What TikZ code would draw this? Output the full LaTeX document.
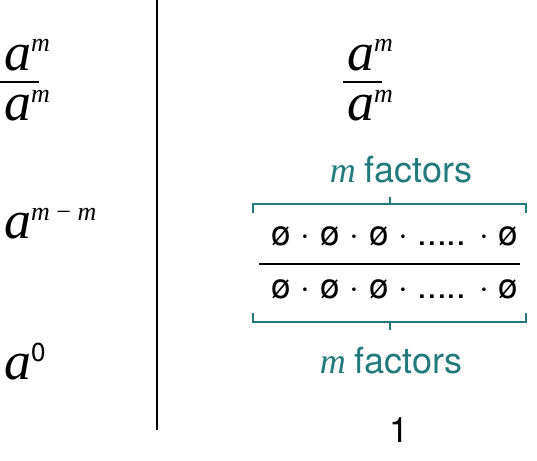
\documentclass[tikz,border=0pt]{standalone}
\usepackage{fontspec}
\setmainfont{Liberation Serif}
\setsansfont{TeX Gyre Heros}
\definecolor{tealm}{RGB}{35,122,124}
\newcommand{\pwr}[2]{{\fontsize{54}{54}\selectfont\itshape #1}\raisebox{18pt}{\fontsize{26}{26}\selectfont #2}}
\newcommand{\mfac}{{\fontsize{36}{36}\selectfont{\itshape m} {\sffamily factors}}}
\tikzset{
  pow/.style = {inner sep=0pt, anchor=base west},
  rowtext/.style = {inner sep=0pt, anchor=base, font=\fontsize{35}{35}\selectfont\sffamily},
  facnote/.style = {inner sep=0pt, anchor=base, text=tealm},
  brace/.style = {tealm, line width=2.5pt}
}
\begin{document}
\begin{tikzpicture}[x=1pt, y=-1pt]
  \useasboundingbox (0,0) rectangle (537,460);
  % dividing line
  \draw [line width=1.8pt] (157,0) -- (157,430);
  % left column
  \node [pow] (numL) at (4,70) {\pwr{a}{\itshape m}};
  \draw [line width=1.8pt] (0,82) -- (39,82);
  \node [pow] (denL) at (4,120) {\pwr{a}{\itshape m}};
  \node [pow] (diffL) at (4,238) {\pwr{a}{\itshape m \textup{−} m}};
  \node [pow] (zeroL) at (4,379) {\pwr{a}{\sffamily 0}};
  % right column
  \node [pow] (numR) at (347,70) {\pwr{a}{\itshape m}};
  \draw [line width=1.8pt] (343,82) -- (382,82);
  \node [pow] (denR) at (347,120) {\pwr{a}{\itshape m}};
  \node [facnote] (facTop) at (401,182) {\mfac};
  \draw [brace] (253,213) -- (253,204) -- (526,204) -- (526,213);
  \draw [brace] (390,204) -- (390,197);
  \node [rowtext] (rowTop) at (395,245) {ø · ø · ø · ..... · ø};
  \draw [line width=1.8pt] (259,264) -- (520,264);
  \node [rowtext] (rowBot) at (395,298) {ø · ø · ø · ..... · ø};
  \draw [brace] (253,313) -- (253,322) -- (526,322) -- (526,313);
  \draw [brace] (390,322) -- (390,330);
  \node [facnote] (facBot) at (391,373) {\mfac};
  \node [rowtext] (one) at (399,442) {1};
\end{tikzpicture}
\end{document}
